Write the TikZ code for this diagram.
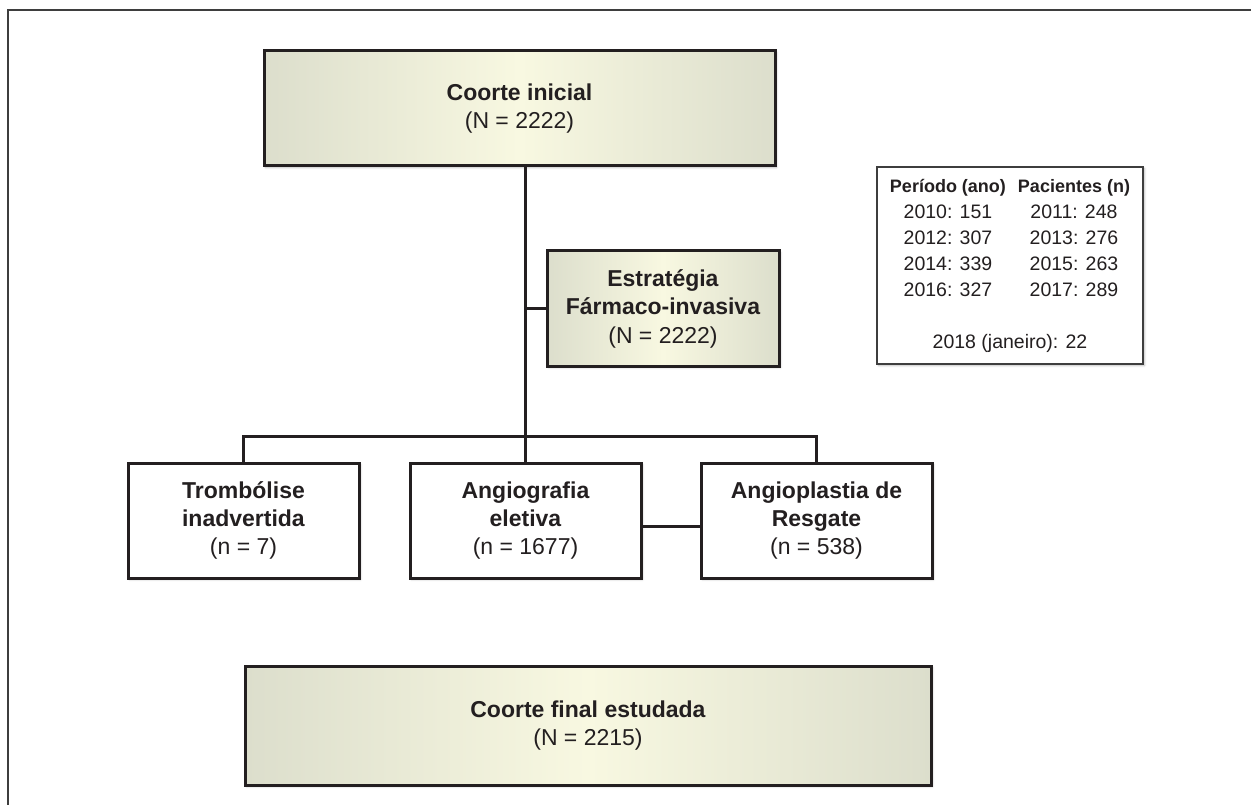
\documentclass[tikz,border=0pt]{standalone}
\usepackage{fontspec}
\setmainfont{Liberation Sans}
\usepackage{xcolor}
\usepackage{tikz}
\usetikzlibrary{positioning, calc, shadows.blur}

\definecolor{boxside}{RGB}{220,222,204}
\definecolor{boxmid}{RGB}{248,248,225}
\definecolor{framegray}{RGB}{62,62,62}
\definecolor{inkgray}{RGB}{35,31,32}

\begin{document}
\begin{tikzpicture}[
    x=1pt, y=-1pt,
    shadowed/.style={blur shadow={shadow xshift=1.5pt, shadow yshift=-1.5pt, shadow blur radius=2pt, shadow opacity=30}},
    mainbox/.style={rectangle, draw=inkgray, line width=3pt, left color=boxside, right color=boxside, middle color=boxmid, shadowed, align=center, text=inkgray, inner sep=0pt, font=\fontsize{23}{28.5}\selectfont},
    armbox/.style={rectangle, draw=inkgray, line width=3pt, fill=white, shadowed, minimum width=231pt, minimum height=115pt, align=center, text=inkgray, inner sep=0pt, font=\fontsize{23}{28}\selectfont},
    tablebox/.style={rectangle, draw=framegray, line width=2pt, fill=white, shadowed, minimum width=266pt, minimum height=197pt, text=inkgray, inner sep=0pt, font=\fontsize{19.5}{26}\selectfont},
    link/.style={draw=inkgray, line width=3pt},
]

\useasboundingbox (0,0) rectangle (1251,805);
\draw[framegray, line width=2pt] (8,805) -- (8,10) -- (1251,10);

\node[mainbox, minimum width=511pt, minimum height=115pt] (init) at (519.5,108.5) {\textbf{Coorte inicial}\\(N = 2222)};

\node[mainbox, minimum width=232pt, minimum height=115pt] (pharm) at (663,308.5) {\textbf{Estratégia}\\\textbf{Fármaco-invasiva}\\(N = 2222)};

\node[tablebox] (years) at (1010,265.5) {%
  \begin{tabular}{@{}c@{\hspace{12pt}}c@{}}
    {\fontsize{18}{26}\selectfont\bfseries Período (ano)} & {\fontsize{18}{26}\selectfont\bfseries Pacientes (n)}\\
    2010: 151 & 2011: 248\\
    2012: 307 & 2013: 276\\
    2014: 339 & 2015: 263\\
    2016: 327 & 2017: 289\\[26pt]
    \multicolumn{2}{c}{2018 (janeiro): 22}
  \end{tabular}%
};

\node[armbox] (tromb) at (243.5,520.5) {\textbf{Trombólise}\\\textbf{inadvertida}\\(n = 7)};
\node[armbox, right=48pt of tromb] (angio) {\textbf{Angiografia}\\\textbf{eletiva}\\(n = 1677)};
\node[armbox, right=57pt of angio] (rescue) {\textbf{Angioplastia de}\\\textbf{Resgate}\\(n = 538)};

\node[mainbox, minimum width=686pt, minimum height=119pt] (final) at (588,725.5) {\textbf{Coorte final estudada}\\(N = 2215)};

\draw[link] (init.south -| angio.north) -- (angio.north);
\draw[link] (pharm.west -| angio.north) -- (pharm.west);
\draw[link] (tromb.north) -- ++(0,-25) -| (rescue.north);
\draw[link] ([yshift=-6pt]angio.east) -- ([yshift=-6pt]rescue.west);

\end{tikzpicture}
\end{document}
